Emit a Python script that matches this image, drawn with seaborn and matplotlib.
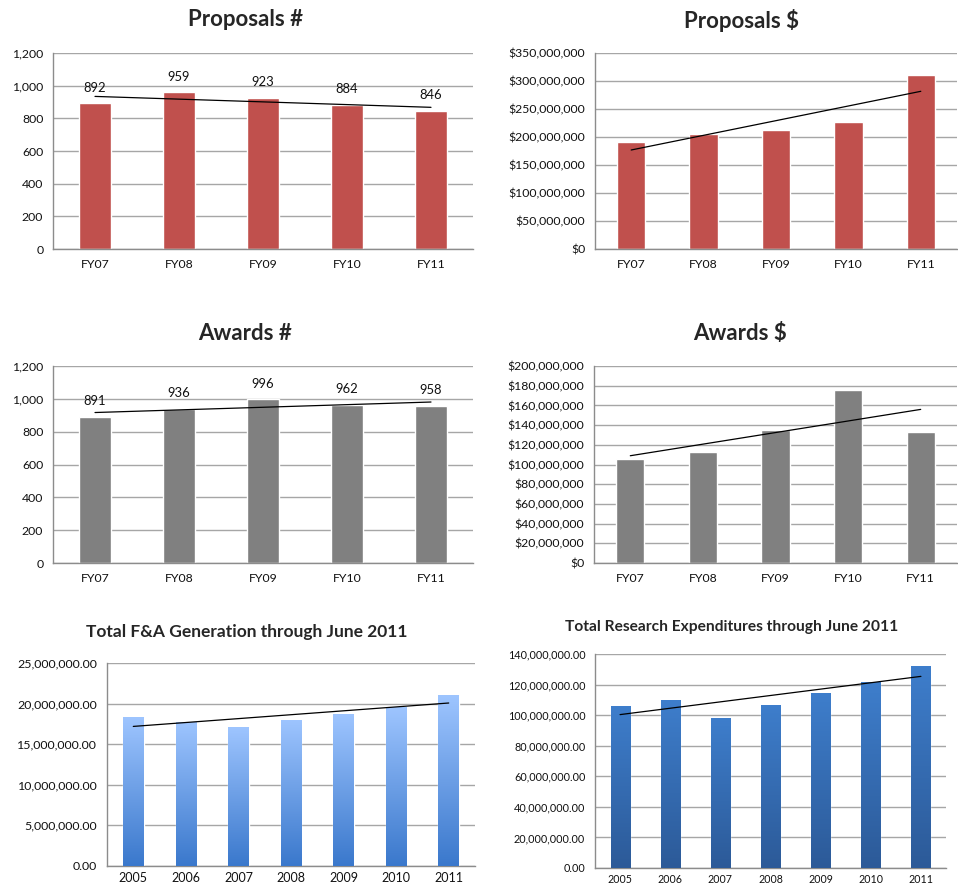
import numpy as np
import pandas as pd
import matplotlib
matplotlib.use("Agg")
import matplotlib.pyplot as plt
import matplotlib.ticker as mticker
from matplotlib.colors import LinearSegmentedColormap
import seaborn as sns

# data
fiscal_years = ["FY07", "FY08", "FY09", "FY10", "FY11"]
proposals_count = [892, 959, 923, 884, 846]
proposals_dollars = [191e6, 205e6, 212e6, 227e6, 311e6]
awards_count = [891, 936, 996, 962, 958]
awards_dollars = [105.8e6, 112.5e6, 135.3e6, 175.3e6, 133.2e6]

years = ["2005", "2006", "2007", "2008", "2009", "2010", "2011"]
fa_generation = [18.3e6, 17.75e6, 17.06e6, 18.03e6, 18.68e6, 19.57e6, 21.03e6]
research_exp = [106.3e6, 110.2e6, 98.3e6, 106.9e6, 114.5e6, 121.6e6, 132.2e6]

sns.set_style("white")
plt.rcParams["font.family"] = ["Lato", "DejaVu Sans"]

W, H = 958, 890
fig = plt.figure(figsize=(W / 100, H / 100), dpi=100)


def add_axes(left, right, top, bottom):
    return fig.add_axes([left / W, 1 - bottom / H, (right - left) / W, (bottom - top) / H])


def style_axes(ax, n, ymax, step, fmt, tick_size):
    ax.set_xlim(-0.5, n - 0.5)
    ax.set_ylim(0, ymax)
    ax.yaxis.set_major_locator(mticker.MultipleLocator(step))
    ax.yaxis.set_major_formatter(mticker.FuncFormatter(fmt))
    ax.grid(axis="y", color="#a6a6a6", linewidth=1)
    ax.grid(axis="x", visible=False)
    ax.set_axisbelow(True)
    for s in ["top", "right"]:
        ax.spines[s].set_visible(False)
    for s in ["left", "bottom"]:
        ax.spines[s].set_color("#8c8c8c")
        ax.spines[s].set_linewidth(1)
    ax.set_xticks(range(n))
    ax.set_xticks(np.arange(-0.5, n, 1), minor=True)
    ax.tick_params(axis="x", which="major", length=0, labelsize=tick_size, colors="#111111", pad=7)
    ax.tick_params(axis="x", which="minor", length=4, color="#8c8c8c", direction="out")
    ax.tick_params(axis="y", length=4, color="#8c8c8c", labelsize=tick_size, labelcolor="#111111", pad=3)
    ax.set_xlabel("")
    ax.set_ylabel("")


def trend(ax, values):
    x = np.arange(len(values))
    k, b = np.polyfit(x, values, 1)
    ax.plot(x, k * x + b, color="black", linewidth=0.9, zorder=5)


def gradient_bars(ax, top_color, bottom_color):
    cmap = LinearSegmentedColormap.from_list("g", [bottom_color, top_color])
    grad = np.linspace(1, 0, 256).reshape(-1, 1)
    for p in ax.patches:
        x0, y0 = p.get_x(), p.get_y()
        w, h = p.get_width(), p.get_height()
        im = ax.imshow(grad, cmap=cmap, aspect="auto", extent=[x0, x0 + w, y0, y0 + h],
                       zorder=3, vmin=0, vmax=1)
        im.set_clip_path(p)


fmt_int = lambda v, pos: f"{v:,.0f}"
fmt_dollar = lambda v, pos: f"${v:,.0f}"
fmt_dec = lambda v, pos: f"{v:,.2f}"

# Proposals #
ax1 = add_axes(53, 473, 53, 249)
sns.barplot(x=fiscal_years, y=proposals_count, color="#c0504d", width=0.39, saturation=1, ax=ax1)
style_axes(ax1, 5, 1200, 200, fmt_int, 8.8)
trend(ax1, proposals_count)
for i, v in enumerate(proposals_count):
    ax1.text(i, v + 60, str(v), ha="center", va="bottom", fontsize=9.4, color="#111111")
fig.text(245 / W, 1 - 20 / H, "Proposals #", ha="center", va="center", fontsize=16, fontweight="bold")

# Proposals $
ax2 = add_axes(595, 957, 53, 249)
sns.barplot(x=fiscal_years, y=proposals_dollars, color="#c0504d", width=0.39, saturation=1, ax=ax2)
style_axes(ax2, 5, 350e6, 50e6, fmt_dollar, 8.8)
trend(ax2, proposals_dollars)
fig.text(741 / W, 1 - 20 / H, "Proposals $", ha="center", va="center", fontsize=16, fontweight="bold")

# Awards #
ax3 = add_axes(53, 473, 366, 563)
sns.barplot(x=fiscal_years, y=awards_count, color="#808080", width=0.39, saturation=1, ax=ax3)
style_axes(ax3, 5, 1200, 200, fmt_int, 8.8)
trend(ax3, awards_count)
for i, v in enumerate(awards_count):
    ax3.text(i, v + 60, str(v), ha="center", va="bottom", fontsize=9.4, color="#111111")
fig.text(245 / W, 1 - 333 / H, "Awards #", ha="center", va="center", fontsize=16, fontweight="bold")

# Awards $
ax4 = add_axes(594, 957, 366, 563)
sns.barplot(x=fiscal_years, y=awards_dollars, color="#808080", width=0.39, saturation=1, ax=ax4)
style_axes(ax4, 5, 200e6, 20e6, fmt_dollar, 8.8)
trend(ax4, awards_dollars)
fig.text(740 / W, 1 - 333 / H, "Awards $", ha="center", va="center", fontsize=16, fontweight="bold")

# Total F&A Generation
ax5 = add_axes(107, 475, 663, 866)
sns.barplot(x=years, y=fa_generation, color="#6fa0e6", width=0.39, saturation=1, ax=ax5)
style_axes(ax5, 7, 25e6, 5e6, fmt_dec, 8.9)
gradient_bars(ax5, "#9ec5ff", "#3a78cc")
ax5.set_xlim(-0.5, 6.5)
ax5.set_ylim(0, 25e6)
trend(ax5, fa_generation)
ax5.tick_params(axis="x", labelsize=9, pad=4)
fig.text(247 / W, 1 - 632 / H, "Total F&A Generation through June 2011", ha="center", va="center",
         fontsize=12.5, fontweight="bold")

# Total Research Expenditures
ax6 = add_axes(595, 946, 654, 868)
sns.barplot(x=years, y=research_exp, color="#3a72ba", width=0.38, saturation=1, ax=ax6)
style_axes(ax6, 7, 140e6, 20e6, fmt_dec, 7.8)
gradient_bars(ax6, "#3e7ecc", "#2c5a98")
ax6.set_xlim(-0.5, 6.5)
ax6.set_ylim(0, 140e6)
trend(ax6, research_exp)
ax6.tick_params(axis="x", labelsize=7.7, pad=4)
fig.text(732 / W, 1 - 627 / H, "Total Research Expenditures through June 2011", ha="center", va="center",
         fontsize=11.2, fontweight="bold")

fig.savefig("out.png", dpi=100)
